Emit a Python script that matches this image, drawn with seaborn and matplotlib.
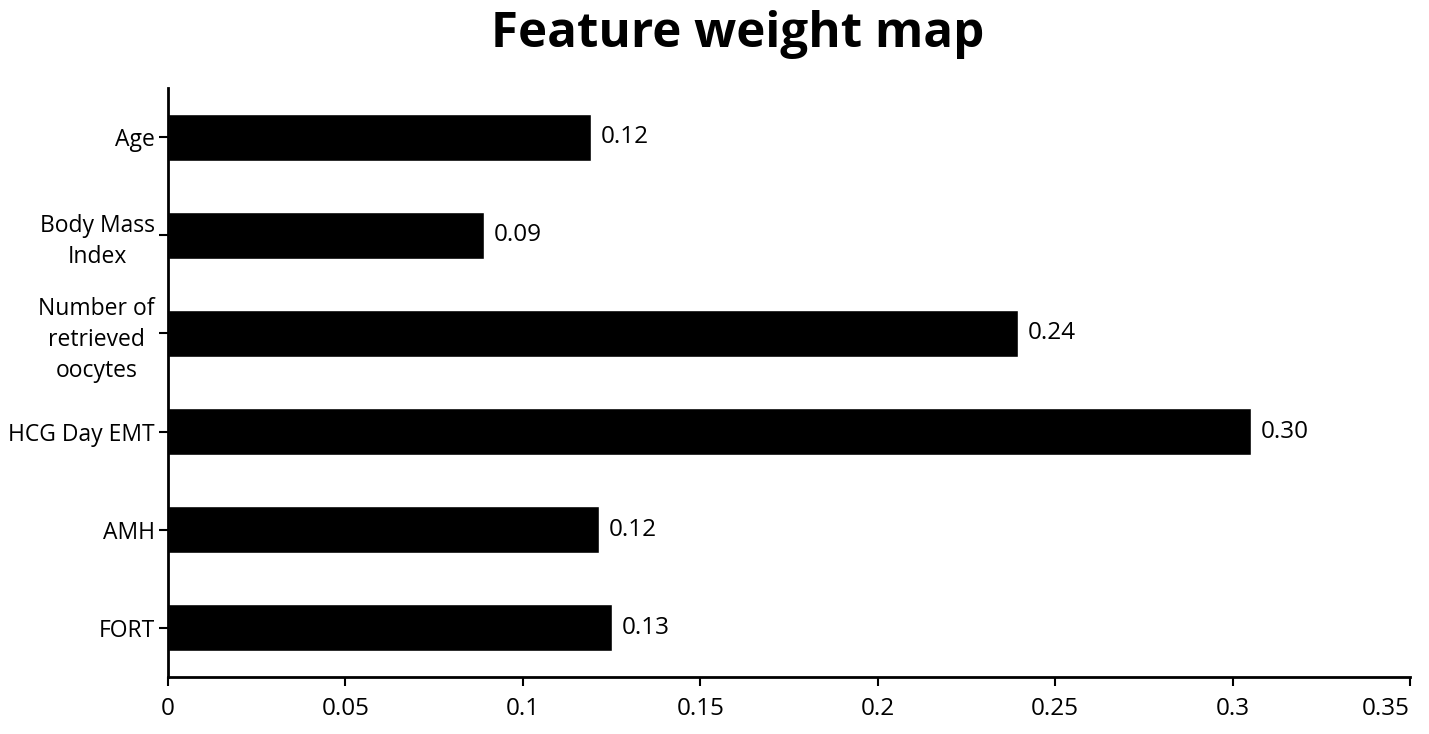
import matplotlib
matplotlib.use("Agg")
import matplotlib.pyplot as plt
import seaborn as sns
import pandas as pd

features = ["Age", "Body Mass\nIndex", "Number of\nretrieved\noocytes",
            "HCG Day EMT", "AMH", "FORT"]
weights = [0.1192, 0.0890, 0.2395, 0.3052, 0.1215, 0.1251]
value_labels = ["0.12", "0.09", "0.24", "0.30", "0.12", "0.13"]
xticks = [0, 0.05, 0.1, 0.15, 0.2, 0.25, 0.3, 0.35]
xtick_labels = ["0", "0.05", "0.1", "0.15", "0.2", "0.25", "0.3", "0.35"]

sns.set_style("ticks")
plt.rcParams["font.family"] = ["Open Sans", "DejaVu Sans"]
plt.rcParams["text.color"] = "black"
plt.rcParams["xtick.color"] = "black"
plt.rcParams["ytick.color"] = "black"

df = pd.DataFrame({"feature": features, "weight": weights})

fig = plt.figure(figsize=(14.29, 7.34), dpi=100)
ax = fig.add_axes([168 / 1429, 1 - 677 / 734, (1410 - 168) / 1429, (677 - 88) / 734])

sns.barplot(data=df, x="weight", y="feature", orient="h", color="black",
            width=0.48, saturation=1, ax=ax)

# value text right of each bar
for i, (w, lab) in enumerate(zip(weights, value_labels)):
    ax.text(w + 0.0028, i, lab, va="center", ha="left", fontsize=17.5)

ax.set_xlim(0, 0.35)
ax.set_ylim(5.5, -0.5)
ax.set_xticks(xticks)
ax.set_xticklabels(xtick_labels, fontsize=17.5)
ax.get_xticklabels()[-1].set_ha("right")
ax.set_yticks(range(len(features)))
ax.set_yticklabels(features, fontsize=16.5, multialignment="center",
                   linespacing=1.4)
ax.set_xlabel("")
ax.set_ylabel("")

for s in ["top", "right"]:
    ax.spines[s].set_visible(False)
for s in ["left", "bottom"]:
    ax.spines[s].set_linewidth(2)
    ax.spines[s].set_color("black")
ax.tick_params(axis="both", width=1.5, length=6.5, pad=3)
ax.tick_params(axis="x", pad=8)

fig.text(738 / 1429, 1 - 47 / 734, "Feature weight map", ha="center",
         va="baseline", fontsize=35.5, fontweight="bold")

fig.savefig("out.png", dpi=100, facecolor="white")
